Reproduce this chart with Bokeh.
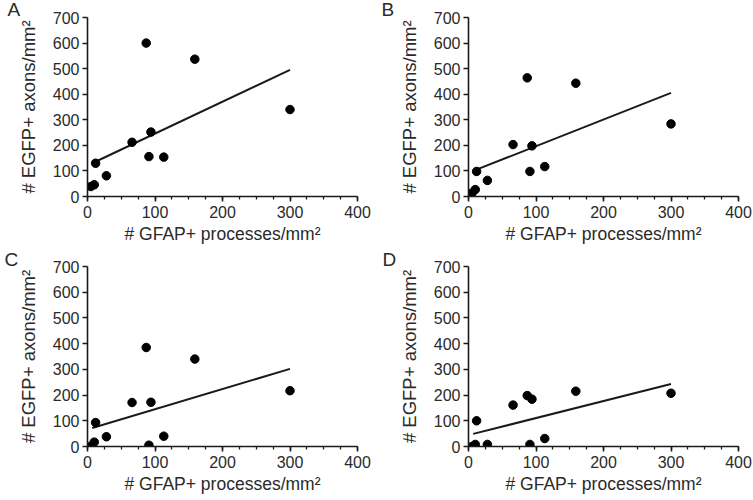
from bokeh.plotting import figure
from bokeh.layouts import gridplot
from bokeh.models import SingleIntervalTicker, Range1d
from bokeh.embed import file_html
from bokeh.resources import INLINE

# ---------------- data ----------------
gfap = [5, 10, 12, 28, 66, 87, 91, 94, 113, 159, 300]

egfp_a = [39, 46, 130, 81, 212, 600, 156, 252, 154, 537, 340]
egfp_b = [13, 27, 98, 63, 203, 464, 98, 198, 117, 443, 284]
egfp_c = [1, 17, 93, 38, 171, 385, 5, 172, 40, 340, 217]
egfp_d = [0, 8, 100, 8, 161, 198, 8, 184, 31, 215, 207]

fit_x = [7, 300]
fit_a = [130, 495]
fit_b = [100, 405]
fit_c = [72, 302]
fit_d = [49, 243]

panel_letters = ["A", "B", "C", "D"]
x_label = "# GFAP+ processes/mm\u00b2"
y_label = "# EGFP+ axons/mm\u00b2"

FONT = "Liberation Sans"


def make_panel(letter, ys, fy, width, height, left, top, bottom, fw,
               letter_dx, letter_standoff, letter_pad):
    p = figure(width=width, height=height, output_backend="svg",
               toolbar_location=None, x_range=Range1d(0, 400),
               y_range=Range1d(0, 700),
               min_border_left=left, min_border_right=width - left - fw,
               min_border_top=top, min_border_bottom=bottom)
    p.outline_line_color = None
    p.xgrid.grid_line_color = None
    p.ygrid.grid_line_color = None
    p.background_fill_color = "white"
    p.border_fill_color = "white"

    p.title.text = letter
    p.title.align = "left"
    p.title.offset = letter_dx
    p.title.standoff = letter_standoff
    p.title.padding = (letter_pad, 0, 0, 0)
    p.title.vertical_align = "top"
    p.title.text_font = FONT
    p.title.text_font_size = "19px"
    p.title.text_font_style = "normal"
    p.title.text_color = "#2a2a2a"
    p.title.text_line_height = 1.0

    p.line(fit_x, fy, line_color="#1a1a1a", line_width=2)
    p.scatter(gfap, ys, size=8.5, color="black")

    p.xaxis.ticker = SingleIntervalTicker(interval=100, num_minor_ticks=4)
    p.yaxis.ticker = SingleIntervalTicker(interval=100, num_minor_ticks=0)
    for ax in (p.xaxis[0], p.yaxis[0]):
        ax.axis_line_width = 1.6
        ax.axis_line_color = "#1a1a1a"
        ax.major_tick_line_width = 1.6
        ax.major_tick_line_color = "#1a1a1a"
        ax.major_tick_out = 5
        ax.major_tick_in = 0
        ax.minor_tick_line_width = 1.3
        ax.minor_tick_line_color = "#1a1a1a"
        ax.minor_tick_out = 3
        ax.minor_tick_in = 0
        ax.major_label_text_font = FONT
        ax.major_label_text_font_size = "16px"
        ax.major_label_text_color = "#2a2a2a"
        ax.axis_label_text_font = FONT
        ax.axis_label_text_font_style = "normal"
        ax.axis_label_text_color = "#2a2a2a"
    p.xaxis.axis_label_text_font_size = "17.5px"
    p.yaxis.axis_label_text_font_size = "18.5px"
    p.xaxis.axis_label = x_label
    p.yaxis.axis_label = y_label
    p.xaxis.major_label_standoff = 4
    p.yaxis.major_label_standoff = 3
    p.xaxis.axis_label_standoff = 3
    p.yaxis.axis_label_standoff = 11
    return p


pa = make_panel("A", egfp_a, fit_a, 380, 250, 87, 17, 54, 270, -83, -8, 3)
pb = make_panel("B", egfp_b, fit_b, 373, 250, 88, 17, 54, 270, -90, -8, 3)
pc = make_panel("C", egfp_c, fit_c, 380, 248, 87, 16, 52, 270, -87, -10, 4)
pd = make_panel("D", egfp_d, fit_d, 373, 248, 88, 16, 52, 270, -90, -10, 4)

grid = gridplot([[pa, pb], [pc, pd]], toolbar_location=None)

open("out.html", "w").write(file_html(grid, INLINE))
